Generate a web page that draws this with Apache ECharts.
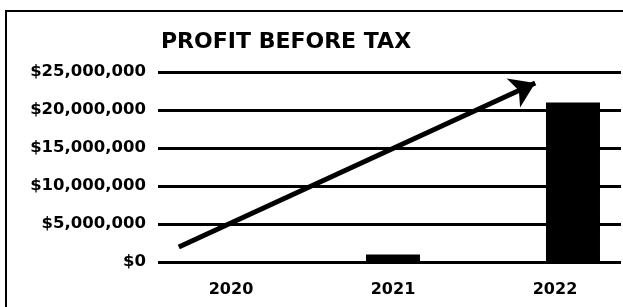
<!DOCTYPE html>
<html>
<head>
<meta charset="utf-8">
<script src="https://cdn.jsdelivr.net/npm/echarts@6/dist/echarts.min.js"></script>
<style>
html,body{margin:0;padding:0;background:#fff;}
#chart{width:623px;height:307px;}
</style>
</head>
<body>
<div id="chart"></div>
<script>
// Data
var titleText = 'PROFIT BEFORE TAX';
var years = [2020, 2021, 2022];
var profit = [0, 1000000, 21000000];
var yTicks = [0, 5000000, 10000000, 15000000, 20000000, 25000000];
// trend arrow endpoints in data space [year position, value]
var trendStart = [2019.81, 1970000];
var trendEnd = [2021.79, 23550000];

var FONT = 'DejaVu Sans';
var chart = echarts.init(document.getElementById('chart'), null, {renderer: 'canvas'});

var barData = years.map(function (y, i) { return [y, profit[i]]; });

var option = {
  backgroundColor: '#ffffff',
  animation: false,
  title: {
    text: titleText,
    left: 161,
    top: 31,
    padding: 0,
    textStyle: {fontFamily: FONT, fontWeight: 'bold', fontSize: 22, color: '#000'}
  },
  graphic: [{
    type: 'rect',
    shape: {x: 6, y: 11, width: 1000, height: 1000},
    style: {fill: 'none', stroke: '#000', lineWidth: 2},
    silent: true,
    z: 100
  }],
  grid: {left: 158, right: 2, top: 72, bottom: 45, containLabel: false},
  xAxis: {
    type: 'value',
    min: 2019.6944,
    max: 2022.2667,
    axisLine: {show: false},
    axisTick: {show: false},
    splitLine: {show: false},
    axisLabel: {
      customValues: years,
      margin: 20,
      color: '#000',
      fontFamily: FONT,
      fontWeight: 'bold',
      fontSize: 16,
      formatter: function (v) {
        var y = Math.round(v);
        if (y === years[0]) return '{l|' + y + '}';
        if (y === years[years.length - 1]) return '{r|' + y + '}';
        return '{m|' + y + '}';
      },
      rich: {
        l: {padding: [0, 0, 0, 36], fontFamily: FONT, fontWeight: 'bold', fontSize: 16, color: '#000'},
        m: {fontFamily: FONT, fontWeight: 'bold', fontSize: 16, color: '#000'},
        r: {padding: [0, 36, 0, 0], fontFamily: FONT, fontWeight: 'bold', fontSize: 16, color: '#000'}
      }
    }
  },
  yAxis: {
    type: 'value',
    min: yTicks[0],
    max: yTicks[yTicks.length - 1],
    interval: yTicks[1] - yTicks[0],
    axisLine: {show: false},
    axisTick: {show: false},
    splitLine: {show: true, lineStyle: {color: '#000', width: 3}},
    axisLabel: {
      margin: 12,
      color: '#000',
      fontFamily: FONT,
      fontWeight: 'bold',
      fontSize: 16.5,
      formatter: function (v) { return '$' + v.toLocaleString('en-US'); }
    }
  },
  series: [{
    type: 'bar',
    data: barData,
    barWidth: 54,
    itemStyle: {color: '#000'},
    silent: true,
    markLine: {
      silent: true,
      symbol: ['none', 'arrow'],
      symbolSize: 24,
      label: {show: false},
      lineStyle: {color: '#000', width: 5, type: 'solid'},
      emphasis: {disabled: true},
      data: [[{coord: trendStart}, {coord: trendEnd}]]
    }
  }]
};
chart.setOption(option);
</script>
</body>
</html>
